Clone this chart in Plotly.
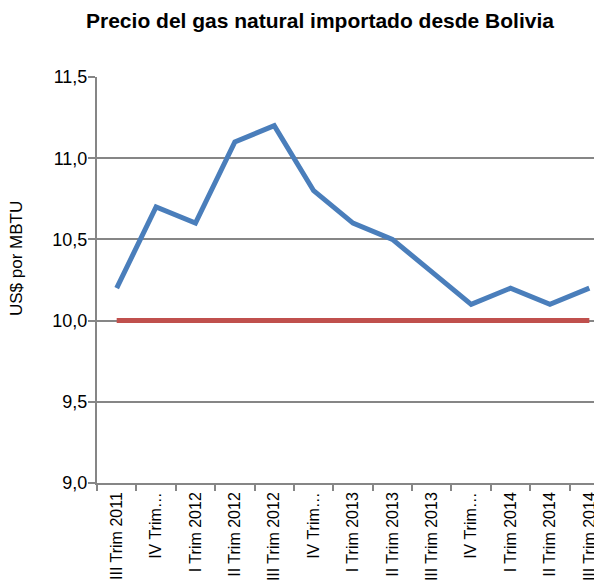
import plotly.graph_objects as go

categories = ["III Trim 2011", "IV Trim…", "I Trim 2012", "II Trim 2012", "III Trim 2012",
              "IV Trim…", "I Trim 2013", "II Trim 2013", "III Trim 2013", "IV Trim…",
              "I Trim 2014", "II Trim 2014", "III Trim 2014"]
precio = [10.2, 10.7, 10.6, 11.1, 11.2, 10.8, 10.6, 10.5, 10.3, 10.1, 10.2, 10.1, 10.2]
referencia = [10.0] * 13
y_ticks = [9.0, 9.5, 10.0, 10.5, 11.0, 11.5]

x = list(range(len(categories)))

W, H = 594, 580
L, T, R, B = 89, 69, 4, 105
x_range = [-0.5, 12.22]

font_family = "Liberation Sans, Arial, sans-serif"
axis_gray = "#868686"

fig = go.Figure()
fig.add_trace(go.Scatter(x=x, y=referencia, mode="lines",
                         line=dict(color="#C0504D", width=5), showlegend=False,
                         hoverinfo="skip", cliponaxis=False))
fig.add_trace(go.Scatter(x=x, y=precio, mode="lines",
                         line=dict(color="#4A7EBB", width=5), showlegend=False,
                         cliponaxis=False))
# invisible trace carrying the category labels
fig.add_trace(go.Scatter(x=x, y=[None] * len(x), xaxis="x2", showlegend=False,
                         hoverinfo="skip"))

fig.update_layout(
    width=W, height=H,
    margin=dict(l=L, r=R, t=T, b=B),
    paper_bgcolor="white", plot_bgcolor="white",
    separators=", ",
    font=dict(family=font_family, color="black"),
    title=dict(text="<b>Precio del gas natural importado desde Bolivia</b>",
               x=312 / W, xanchor="center", y=1 - 13 / H, yanchor="middle",
               font=dict(size=21, family=font_family, color="black")),
    xaxis=dict(
        range=x_range,
        tickmode="array", tickvals=[i - 0.5 for i in range(14)], ticktext=[""] * 14,
        showgrid=False, showline=True, linecolor=axis_gray, linewidth=2,
        ticks="outside", ticklen=6, tickwidth=2, tickcolor=axis_gray,
        automargin=False, zeroline=False,
    ),
    xaxis2=dict(
        overlaying="x", anchor="y", side="bottom", range=x_range,
        tickmode="array", tickvals=x, ticktext=categories, tickangle=-90,
        showgrid=False, showline=False, ticks="",
        tickfont=dict(size=16, family=font_family, color="black"),
        automargin=False, zeroline=False, ticklabelstandoff=5,
    ),
    yaxis=dict(
        range=[9.0, 11.5], tickmode="array", tickvals=y_ticks, tickformat=".1f",
        showgrid=True, gridcolor=axis_gray, gridwidth=2,
        showline=True, linecolor=axis_gray, linewidth=2,
        ticks="outside", ticklen=7, tickwidth=2, tickcolor=axis_gray,
        tickfont=dict(size=18, family=font_family, color="black"),
        zeroline=False, automargin=False, ticklabelstandoff=-3,
    ),
    annotations=[dict(
        text="US$ por MBTU", textangle=-90, showarrow=False,
        xref="paper", yref="paper",
        x=(8 - L) / (W - L - R), y=(475 - 251) / (475 - 69),
        xanchor="center", yanchor="middle",
        font=dict(size=17, family=font_family, color="black"),
    )],
)

fig.write_html("out.html")
